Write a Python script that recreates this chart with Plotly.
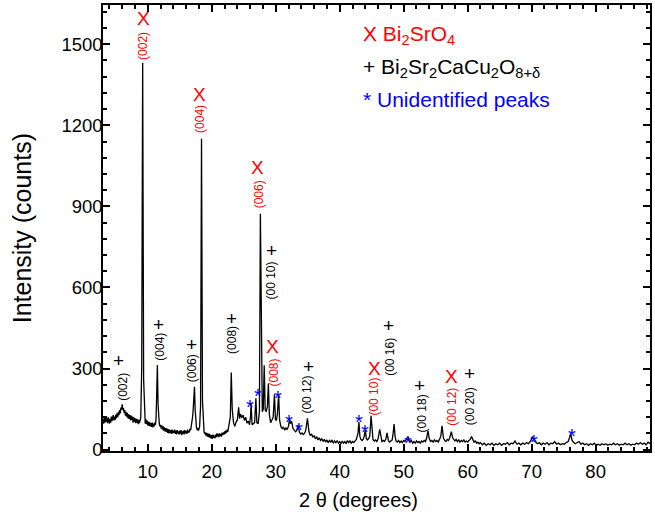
import plotly.graph_objects as go

# ---- XRD pattern (2theta in degrees, intensity in counts) ----
two_theta = [
    3.0, 3.1, 3.2, 3.3, 3.4, 3.5, 3.6, 3.7, 3.8, 3.9,
    4.0, 4.1, 4.2, 4.3, 4.4, 4.5, 4.6, 4.7, 4.8, 4.9,
    5.0, 5.1, 5.2, 5.3, 5.4, 5.5, 5.6, 5.7, 5.8, 5.9,
    6.0, 6.1, 6.2, 6.3, 6.4, 6.5, 6.6, 6.7, 6.8, 6.9,
    7.0, 7.1, 7.2, 7.3, 7.4, 7.5, 7.6, 7.7, 7.8, 7.9,
    8.0, 8.1, 8.2, 8.3, 8.4, 8.5, 8.6, 8.7, 8.8, 8.9,
    9.05, 9.2, 9.35, 9.5,
    9.6, 9.7, 9.8, 9.9, 10.0, 10.1, 10.2, 10.3, 10.4, 10.5,
    10.6, 10.7, 10.8, 10.9, 11.0, 11.1, 11.2, 11.3, 11.4, 11.5,
    11.6, 11.7, 11.8, 11.9, 12.0, 12.1, 12.2, 12.3, 12.4, 12.5,
    12.6, 12.7, 12.8, 12.9, 13.0, 13.1, 13.2, 13.3, 13.4, 13.5,
    13.6, 13.7, 13.8, 13.9, 14.0, 14.1, 14.2, 14.3, 14.4, 14.5,
    14.6, 14.7, 14.8, 14.9, 15.0, 15.1, 15.2, 15.3, 15.4, 15.5,
    15.6, 15.7, 15.8, 15.9, 16.0, 16.1, 16.2, 16.3, 16.4, 16.5,
    16.6, 16.7, 16.8, 16.9, 17.0, 17.1, 17.2, 17.3, 17.4, 17.5,
    17.6, 17.7, 17.8, 17.9, 18.0, 18.1, 18.25, 18.4, 18.55, 18.7,
    18.8, 18.9, 19.0, 19.1, 19.2, 19.3, 19.4, 19.5, 19.6, 19.7,
    19.8, 19.9, 20.0, 20.1, 20.2, 20.3, 20.4, 20.5, 20.6, 20.7,
    20.8, 20.9, 21.0, 21.1, 21.2, 21.3, 21.4, 21.5, 21.6, 21.7,
    21.8, 21.9, 22.0, 22.1, 22.2, 22.3, 22.4, 22.5, 22.6, 22.7,
    22.9, 23.05, 23.2, 23.4, 23.6, 23.8, 24.0, 24.2,
    24.35, 24.5, 24.7, 24.9, 25.1, 25.3, 25.5, 25.7, 25.9, 26.05,
    26.15, 26.3, 26.5, 26.7, 26.9, 27.05, 27.25, 27.45, 27.6, 27.75,
    27.9, 28.05, 28.2, 28.35, 28.5, 28.7, 28.85, 29.0, 29.2, 29.4,
    29.6, 29.8, 29.95, 30.1, 30.25, 30.45, 30.6, 30.8, 31.0, 31.2,
    31.4, 31.6, 31.8, 32.0, 32.15, 32.3, 32.5, 32.7, 32.9, 33.1,
    33.3, 33.5, 33.7, 33.9, 34.1, 34.3, 34.5, 34.7, 34.95, 35.2,
    35.4, 35.6, 35.8, 36.0, 36.2, 36.4, 36.6, 36.8, 37.0, 37.2,
    37.4, 37.6, 37.8, 38.0, 38.2, 38.4, 38.6, 38.8, 39.0, 39.2,
    39.4, 39.6, 39.8, 40.0, 40.2, 40.4, 40.6, 40.8, 41.0, 41.2,
    41.4, 41.6, 41.8, 42.0, 42.2, 42.4, 42.6, 42.85, 43.0, 43.15,
    43.3, 43.5, 43.7, 43.85, 44.0, 44.15, 44.3, 44.5, 44.7, 44.9,
    45.05, 45.2, 45.4, 45.6, 45.8, 46.0, 46.25, 46.45, 46.6, 46.8,
    47.0, 47.2, 47.4, 47.6, 47.8, 48.0, 48.2, 48.35, 48.5, 48.65,
    48.8, 49.0, 49.2, 49.4, 49.6, 49.8, 50.0, 50.2, 50.45, 50.65,
    50.85, 51.0, 51.2, 51.4, 51.6, 51.8, 52.0, 52.2, 52.4, 52.6,
    52.8, 53.0, 53.2, 53.4, 53.6, 53.8, 54.0, 54.2, 54.4, 54.6,
    54.8, 55.0, 55.2, 55.4, 55.6, 55.8, 56.0, 56.2, 56.4, 56.6,
    56.8, 57.0, 57.2, 57.45, 57.65, 57.8, 58.0, 58.2, 58.4, 58.6,
    58.8, 59.0, 59.2, 59.4, 59.6, 59.8, 60.0, 60.2, 60.4, 60.6,
    60.8, 61.0, 61.2, 61.4, 61.6, 61.8, 62.0, 62.3, 62.6, 62.9,
    63.2, 63.5, 63.8, 64.1, 64.4, 64.7, 65.0, 65.3, 65.6, 65.9,
    66.2, 66.5, 66.8, 67.1, 67.4, 67.7, 68.0, 68.3, 68.6, 68.9,
    69.2, 69.5, 69.8, 70.0, 70.15, 70.35, 70.6, 70.9, 71.2, 71.5,
    71.8, 72.1, 72.4, 72.7, 73.0, 73.3, 73.6, 73.9, 74.2, 74.5,
    74.8, 75.1, 75.4, 75.7, 75.9, 76.1, 76.3, 76.5, 76.8, 77.1,
    77.4, 77.7, 78.0, 78.3, 78.6, 78.9, 79.2, 79.5, 79.8, 80.1,
    80.4, 80.7, 81.0, 81.3, 81.6, 81.9, 82.2, 82.5, 82.8, 83.1,
    83.4, 83.7, 84.0, 84.3, 84.6, 84.9, 85.2, 85.5, 85.8, 86.1,
    86.4, 86.7, 87.0, 87.3, 87.6, 87.9, 88.2, 88.5, 88.8,
]
counts = [
    112, 96, 118, 100, 122, 104, 116, 98, 120, 102,
    96, 114, 100, 122, 106, 118, 128, 108, 122, 110,
    130, 116, 134, 120, 140, 128, 146, 134, 156, 148,
    168, 146, 154, 136, 146, 126, 140, 122, 136, 116,
    132, 114, 128, 108, 126, 110, 122, 100, 120, 104,
    116, 98, 114, 100, 112, 94, 110, 98, 112, 118,
    300, 1430, 260, 120,
    96, 112, 94, 108, 90, 104, 88, 102, 86, 98,
    84, 100, 82, 96, 86, 100, 92, 118, 180, 313,
    170, 118, 96, 86, 92, 78, 90, 74, 86, 70,
    82, 68, 80, 66, 78, 62, 76, 60, 74, 62,
    72, 58, 74, 60, 70, 62, 74, 58, 70, 56,
    72, 60, 68, 56, 70, 58, 72, 54, 68, 58,
    70, 56, 72, 60, 68, 58, 74, 62, 70, 64,
    78, 72, 86, 96, 120, 150, 200, 233, 150, 100,
    84, 74, 80, 70, 78, 84, 160, 1150, 180, 82,
    66, 58, 64, 52, 62, 48, 60, 46, 58, 44,
    56, 42, 54, 40, 56, 44, 52, 42, 56, 46,
    60, 48, 58, 46, 60, 50, 58, 48, 62, 54,
    64, 56, 68, 58, 70, 62, 74, 66, 80, 86,
    120, 285, 150, 100, 86, 102, 110, 157,
    115, 132, 118, 128, 108, 120, 98, 106, 92, 120,
    172, 92, 96, 100, 190, 100, 96, 140, 873, 300,
    140, 150, 312, 148, 140, 160, 245, 130, 100, 110,
    120, 205, 112, 108, 130, 202, 110, 86, 78, 84,
    72, 80, 74, 88, 113, 96, 104, 78, 70, 66,
    72, 92, 64, 58, 62, 56, 60, 72, 116, 66,
    52, 58, 46, 52, 40, 48, 36, 44, 34, 40,
    30, 38, 28, 36, 26, 34, 28, 36, 24, 32,
    26, 34, 24, 30, 22, 32, 24, 30, 22, 34,
    26, 32, 24, 30, 26, 34, 38, 60, 102, 50,
    38, 34, 40, 52, 72, 42, 36, 40, 50, 125,
    56, 38, 32, 36, 30, 40, 75, 38, 30, 34,
    30, 38, 62, 34, 28, 32, 36, 60, 95, 50,
    32, 28, 34, 26, 32, 26, 34, 30, 40, 47,
    38, 28, 34, 24, 30, 24, 32, 26, 30, 24,
    32, 28, 34, 30, 44, 70, 40, 30, 34, 28,
    36, 30, 34, 28, 38, 50, 88, 44, 34, 30,
    38, 34, 44, 67, 44, 36, 32, 38, 30, 36,
    28, 34, 30, 36, 28, 32, 28, 34, 38, 49,
    34, 28, 32, 24, 28, 22, 26, 18, 24, 16,
    22, 18, 24, 16, 22, 18, 24, 16, 22, 20,
    26, 18, 24, 22, 32, 20, 24, 18, 24, 20,
    26, 22, 30, 40, 49, 34, 28, 22, 26, 18,
    24, 20, 26, 18, 24, 22, 30, 20, 24, 18,
    22, 20, 26, 30, 42, 60, 36, 28, 22, 26,
    30, 20, 24, 18, 22, 16, 22, 18, 24, 16,
    20, 16, 22, 18, 22, 16, 20, 18, 24, 18,
    22, 16, 20, 18, 24, 18, 22, 16, 20, 18,
    24, 20, 26, 20, 24, 18, 28, 22, 20,
]

# ---- Bi2SrO4 reflections (red X) ----
bso_x = [9.27, 18.1, 27.1, 29.5, 45.5, 57.55]
bso_mark_y = [1594, 1314, 1045, 383, 301, 270]
bso_label_x = [9.27, 18.25, 27.45, 29.8, 45.35, 57.55]
bso_label_y = [1494, 1222, 946, 287, 196, 159]
bso_labels = ["(002)", "(004)", "(006)", "(008)", "(00 10)", "(00 12)"]

# ---- Bi2Sr2CaCu2O8+d reflections (black +) ----
bscco_x = [5.48, 11.6, 16.9, 23.04, 29.27, 35.1, 47.7, 52.5, 60.3]
bscco_mark_y = [331, 464, 389, 485, 735, 309, 458, 237, 280]
bscco_label_x = [6.15, 11.87, 16.9, 23.13, 29.27, 34.97, 47.85, 52.9, 60.3]
bscco_label_y = [233, 380, 301, 405, 626, 202, 343, 135, 159]
bscco_labels = ["(002)", "(004)", "(006)", "(008)", "(00 10)", "(00 12)",
                "(00 16)", "(00 18)", "(00 20)"]

# ---- Unidentified peaks (blue *) ----
unid_x = [26.0, 27.2, 30.4, 32.1, 33.6, 43.0, 44.0, 50.65, 70.3, 76.35]
unid_y = [181, 221, 212, 123, 96, 123, 86, 47, 52, 71]

# ---- Legend texts ----
legend_lines = [
    ("X Bi<sub>2</sub>SrO<sub>4</sub>", "#FF0000"),
    ("+ Bi<sub>2</sub>Sr<sub>2</sub>CaCu<sub>2</sub>O<sub>8+δ</sub>", "#000000"),
    ("* Unidentified peaks", "#0000FF"),
]
legend_y = [1535, 1413, 1296]

FONT = "Liberation Sans, Arial, sans-serif"

fig = go.Figure()
fig.add_trace(go.Scatter(x=two_theta, y=counts, mode="lines",
                         line=dict(color="black", width=1.3),
                         showlegend=False, hoverinfo="skip"))

ann = []
for x, y in zip(bso_x, bso_mark_y):
    ann.append(dict(x=x, y=y, text="X", showarrow=False,
                    font=dict(family=FONT, size=19, color="#FF0000"),
                    xanchor="center", yanchor="middle"))
for x, y, t in zip(bso_label_x, bso_label_y, bso_labels):
    ann.append(dict(x=x, y=y, text=t, showarrow=False, textangle=-90,
                    font=dict(family=FONT, size=12, color="#FF0000"),
                    xanchor="center", yanchor="middle"))
for x, y in zip(bscco_x, bscco_mark_y):
    ann.append(dict(x=x, y=y, text="+", showarrow=False,
                    font=dict(family=FONT, size=19, color="black"),
                    xanchor="center", yanchor="middle"))
for x, y, t in zip(bscco_label_x, bscco_label_y, bscco_labels):
    ann.append(dict(x=x, y=y, text=t, showarrow=False, textangle=-90,
                    font=dict(family=FONT, size=12, color="black"),
                    xanchor="center", yanchor="middle"))
for x, y in zip(unid_x, unid_y):
    ann.append(dict(x=x, y=y, text="*", showarrow=False, yshift=-6,
                    font=dict(family=FONT, size=20, color="#0000FF"),
                    xanchor="center", yanchor="middle"))
for (t, c), y in zip(legend_lines, legend_y):
    ann.append(dict(x=43.3, y=y, text=t, showarrow=False,
                    font=dict(family=FONT, size=21, color=c),
                    xanchor="left", yanchor="middle"))

# axis titles placed as in the reference
ann.append(dict(xref="paper", yref="paper", x=0.468, y=-0.109, text="2 θ (degrees)",
                showarrow=False, xanchor="center", yanchor="middle",
                font=dict(family=FONT, size=20, color="black")))
ann.append(dict(xref="paper", yref="paper", x=-0.1475, y=0.5, text="Intensity (counts)",
                showarrow=False, xanchor="center", yanchor="middle", textangle=-90,
                font=dict(family=FONT, size=25, color="black")))

axis_common = dict(showline=True, linecolor="black", linewidth=1.5,
                   mirror="allticks", ticks="inside", ticklen=7, tickwidth=1.5,
                   tickcolor="black", showgrid=False, zeroline=False,
                   tickfont=dict(family=FONT, size=18.5, color="black"))

fig.update_layout(
    width=655, height=520,
    margin=dict(l=103, r=3, t=3, b=69),
    paper_bgcolor="white", plot_bgcolor="white",
    annotations=ann,
    xaxis=dict(range=[3, 88.5], tick0=0, dtick=10,
               minor=dict(dtick=2, ticks="inside", ticklen=4, tickwidth=1.5, tickcolor="black"),
               ticklabelstandoff=3,
               **axis_common),
    yaxis=dict(range=[-5, 1645], tick0=0, dtick=300,
               minor=dict(dtick=60, ticks="inside", ticklen=4, tickwidth=1.5, tickcolor="black"),
               ticklabelstandoff=-5,
               **axis_common),
)

fig.write_html("out.html")
